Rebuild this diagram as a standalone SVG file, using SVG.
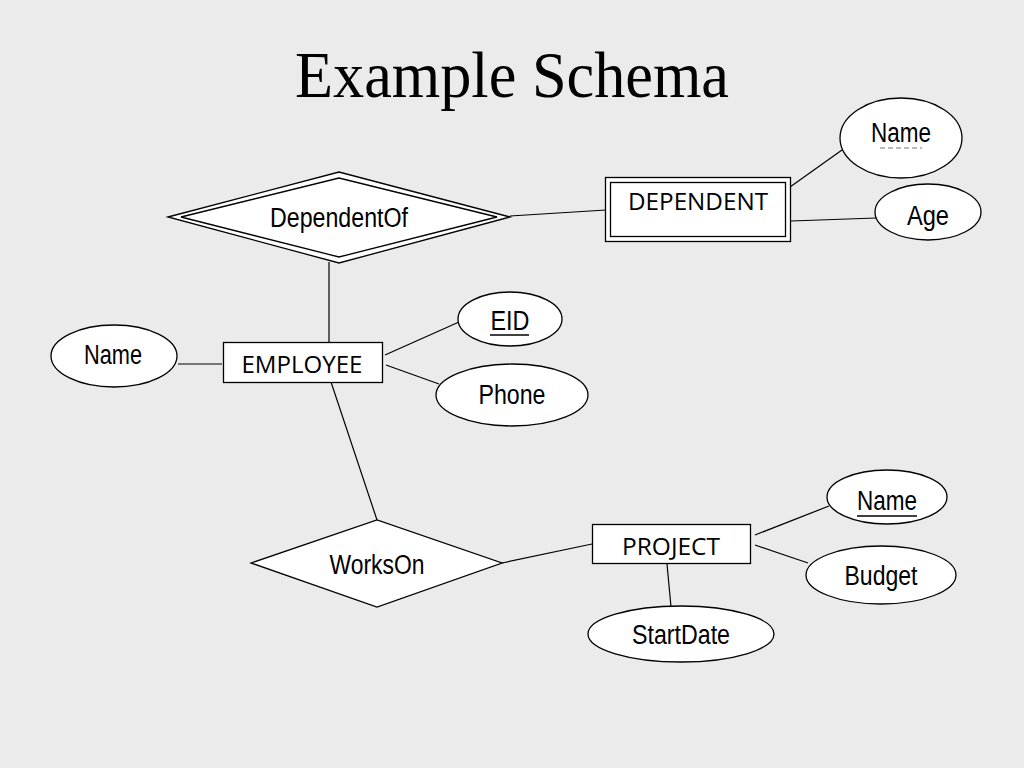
<svg xmlns="http://www.w3.org/2000/svg" width="1024" height="768" viewBox="0 0 1024 768">
<style>
.bg{fill:#ebebeb}
.shape{fill:#ffffff;stroke:#000000;stroke-width:1.3}
.conn line{stroke:#000000;stroke-width:1.2}
.title{font-family:"Liberation Serif","Times New Roman",serif;font-size:65px;fill:#000}
.attr{font-family:"Liberation Sans",Arial,sans-serif;font-size:27px;fill:#000;text-anchor:middle}
.ent{font-family:"Open Sans","Noto Sans",sans-serif;font-size:23.5px;fill:#000;text-anchor:middle}
</style>
<rect class="bg" x="0" y="0" width="1024" height="768"/>
<text class="title" x="512" y="97" text-anchor="middle" textLength="434" lengthAdjust="spacingAndGlyphs">Example Schema</text>
<g id="connectors" class="conn">
<line x1="790" y1="187" x2="842" y2="150"/>
<line x1="791" y1="221" x2="876" y2="218"/>
<line x1="510" y1="216" x2="606" y2="210"/>
<line x1="329" y1="262" x2="329" y2="342"/>
<line x1="178" y1="364" x2="222" y2="364"/>
<line x1="385" y1="355" x2="459" y2="322"/>
<line x1="386" y1="365" x2="439" y2="384"/>
<line x1="331" y1="382" x2="377" y2="520"/>
<line x1="502" y1="563" x2="592" y2="544"/>
<line x1="755" y1="535" x2="829" y2="506"/>
<line x1="755" y1="545" x2="808" y2="563"/>
<line x1="667" y1="564" x2="671" y2="607"/>
</g>
<g id="dependent">
<rect class="shape" x="605.5" y="177.5" width="185" height="64"/>
<rect class="shape" x="610.5" y="182.5" width="175" height="54"/>
<text class="ent" x="698" y="210" textLength="140" lengthAdjust="spacingAndGlyphs">DEPENDENT</text>
</g>
<g id="dep-name">
<ellipse class="shape" cx="901" cy="138" rx="61" ry="40"/>
<text class="attr" x="901" y="142" textLength="60" lengthAdjust="spacingAndGlyphs">Name</text>
<line x1="880" y1="148" x2="922" y2="148" stroke="#777" stroke-width="1.2" stroke-dasharray="5,3"/>
</g>
<g id="dep-age">
<ellipse class="shape" cx="928" cy="212" rx="53" ry="28"/>
<text class="attr" x="928" y="225" textLength="42" lengthAdjust="spacingAndGlyphs">Age</text>
</g>
<g id="dependentof">
<polygon class="shape" points="168,217 339,172 510,217 339,263"/>
<polygon class="shape" points="181,217 339,178 497,217 339,257"/>
<text class="attr" x="339" y="227" textLength="138" lengthAdjust="spacingAndGlyphs">DependentOf</text>
</g>
<g id="employee">
<rect class="shape" x="223.5" y="342.5" width="159" height="40"/>
<text class="ent" x="302" y="373" textLength="121" lengthAdjust="spacingAndGlyphs">EMPLOYEE</text>
</g>
<g id="emp-name">
<ellipse class="shape" cx="114" cy="356" rx="63" ry="31"/>
<text class="attr" x="113" y="364" textLength="58" lengthAdjust="spacingAndGlyphs">Name</text>
</g>
<g id="emp-eid">
<ellipse class="shape" cx="510" cy="319" rx="52" ry="27"/>
<text class="attr" x="510" y="330" textLength="39" lengthAdjust="spacingAndGlyphs">EID</text>
<line x1="490" y1="335" x2="529" y2="335" stroke="#000" stroke-width="1.3"/>
</g>
<g id="emp-phone">
<ellipse class="shape" cx="512" cy="395" rx="76" ry="31"/>
<text class="attr" x="512" y="404" textLength="67" lengthAdjust="spacingAndGlyphs">Phone</text>
</g>
<g id="workson">
<polygon class="shape" points="251,563 377,520 502,563 377,607"/>
<text class="attr" x="377" y="574" textLength="95" lengthAdjust="spacingAndGlyphs">WorksOn</text>
</g>
<g id="project">
<rect class="shape" x="592.5" y="524.5" width="158" height="39"/>
<text class="ent" x="671" y="555" textLength="98" lengthAdjust="spacingAndGlyphs">PROJECT</text>
</g>
<g id="proj-name">
<ellipse class="shape" cx="887" cy="497" rx="60" ry="27"/>
<text class="attr" x="887" y="510" textLength="60" lengthAdjust="spacingAndGlyphs">Name</text>
<line x1="857" y1="516" x2="917" y2="516" stroke="#000" stroke-width="1.3"/>
</g>
<g id="proj-budget">
<ellipse class="shape" cx="881" cy="575" rx="75" ry="29"/>
<text class="attr" x="881" y="585" textLength="73" lengthAdjust="spacingAndGlyphs">Budget</text>
</g>
<g id="proj-startdate">
<ellipse class="shape" cx="681" cy="634" rx="93" ry="28"/>
<text class="attr" x="681" y="644" textLength="98" lengthAdjust="spacingAndGlyphs">StartDate</text>
</g>
</svg>
